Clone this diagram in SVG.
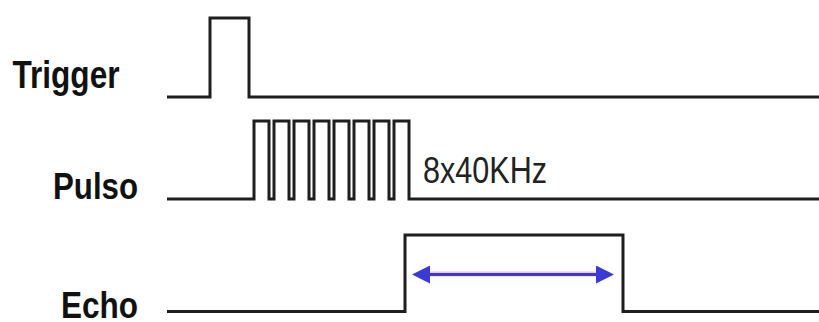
<svg xmlns="http://www.w3.org/2000/svg" width="819" height="322" viewBox="0 0 819 322">
  <style>
    .sig { fill: none; stroke: #1e1e1e; stroke-width: 3; stroke-linejoin: miter; }
    .lbl { font-family: "Liberation Sans", Arial, sans-serif; font-weight: bold; fill: #111; }
    .note { font-family: "Liberation Sans", Arial, sans-serif; fill: #222; }
    .arr-halo { stroke: #f9c4cc; stroke-width: 5; fill: none; }
    .arr { stroke: #3a3ad4; stroke-width: 3; fill: none; }
  </style>
  <defs>
    <marker id="ah" markerWidth="6" markerHeight="6" refX="5" refY="3" orient="auto-start-reverse" markerUnits="strokeWidth">
      <path d="M0,0 L6,3 L0,6 z" fill="#3a3ad4"/>
    </marker>
  </defs>
  <rect width="819" height="322" fill="#ffffff"/>

  <g id="trigger">
    <text class="lbl" x="12.5" y="88" font-size="39" textLength="107" lengthAdjust="spacingAndGlyphs">Trigger</text>
    <path class="sig" d="M167 97 H210 V18 H249 V97 H819"/>
  </g>

  <g id="pulso">
    <text class="lbl" x="53" y="199" font-size="36" textLength="85" lengthAdjust="spacingAndGlyphs">Pulso</text>
    <path class="sig" d="M167 199 H254 V121 H269 V199 H274 V121 H289 V199 H294 V121 H309 V199 H314 V121 H329 V199 H334 V121 H349 V199 H354 V121 H369 V199 H374 V121 H389 V199 H394 V121 H409 V199 H819"/>
    <text class="note" x="423" y="183" font-size="36" textLength="124" lengthAdjust="spacingAndGlyphs">8x40KHz</text>
  </g>

  <g id="echo">
    <text class="lbl" x="61" y="317.5" font-size="36" textLength="77" lengthAdjust="spacingAndGlyphs">Echo</text>
    <path class="sig" d="M167 311.5 H405 V235 H623 V311.5 H819"/>
  </g>

  <g id="connectors">
    <line class="arr-halo" x1="420" y1="274" x2="606" y2="274"/>
    <line class="arr" x1="415" y1="274.5" x2="611" y2="274.5" marker-start="url(#ah)" marker-end="url(#ah)"/>
  </g>
</svg>
